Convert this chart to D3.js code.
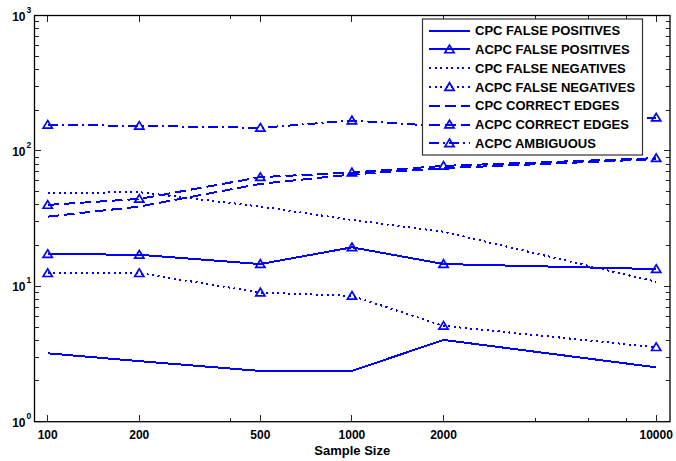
<!DOCTYPE html>
<html>
<head>
<meta charset="utf-8">
<script src="https://cdn.jsdelivr.net/npm/d3@7"></script>
<style>
    body { margin: 0; background: #fff; }
    svg { display: block; font-family: "Liberation Sans", Arial, sans-serif; font-weight: bold; }
</style>
</head>
<body>
<svg id="chart" width="676" height="461"></svg>
<script>
// sample sizes along the x axis
const sampleSizes = [100, 200, 500, 1000, 2000, 10000];
const xMajorTicks = [100, 200, 500, 1000, 2000, 10000];
const xMinorTicks = [400, 4000, 6000, 8000];

// series values
const cpcFalsePos = [3.2, 2.8, 2.37, 2.37, 4.02, 2.52];
const acpcFalsePos = [17.3, 17.1, 14.6, 19.4, 14.6, 13.4];
const cpcFalseNeg = [48.7, 49.6, 38.8, 30.9, 25.3, 10.8];
const acpcFalseNeg = [12.5, 12.5, 9.0, 8.5, 5.1, 3.55];
const cpcCorrect = [32.7, 38.8, 57.1, 67, 74.5, 87];
const acpcCorrect = [39.9, 44.2, 64, 69.2, 77.5, 88.4];
const acpcAmbiguous = [155.7, 153, 148, 167.6, 152, 176];

const seriesNames = [
    "CPC FALSE POSITIVES", "ACPC FALSE POSITIVES",
    "CPC FALSE NEGATIVES", "ACPC FALSE NEGATIVES",
    "CPC CORRECT EDGES", "ACPC CORRECT EDGES", "ACPC AMBIGUOUS"
];

const BLUE = "#0000ff";
const SOLID = null, DOTTED = "2,3.5", DASHED = "11,5", DASHDOT = "10,4,2,4";

const series = [
    { name: seriesNames[0], values: cpcFalsePos, dash: SOLID, marker: false },
    { name: seriesNames[1], values: acpcFalsePos, dash: SOLID, marker: true },
    { name: seriesNames[2], values: cpcFalseNeg, dash: DOTTED, marker: false },
    { name: seriesNames[3], values: acpcFalseNeg, dash: DOTTED, marker: true },
    { name: seriesNames[4], values: cpcCorrect, dash: DASHED, marker: false },
    { name: seriesNames[5], values: acpcCorrect, dash: DASHED, marker: true },
    { name: seriesNames[6], values: acpcAmbiguous, dash: DASHDOT, marker: true }
];

const plot = { left: 34.5, right: 670, top: 15.5, bottom: 421.7 };

const x = d3.scaleLog().domain([90.5, 11100]).range([plot.left, plot.right]);
const y = d3.scaleLog().domain([1, 1000]).range([plot.bottom, plot.top]);

const svg = d3.select("#chart");

// minor y ticks 2..9 in each decade
const yMinor = [];
[1, 10, 100].forEach(d => { for (let k = 2; k <= 9; k++) yMinor.push(d * k); });
const yMajor = [1, 10, 100, 1000];

const tickG = svg.append("g").attr("stroke", "#222").attr("stroke-width", 1).attr("shape-rendering", "crispEdges");

// x ticks, bottom and top, pointing inward
function xTick(v, len) {
    tickG.append("line").attr("x1", x(v)).attr("x2", x(v)).attr("y1", plot.bottom).attr("y2", plot.bottom - len);
    tickG.append("line").attr("x1", x(v)).attr("x2", x(v)).attr("y1", plot.top).attr("y2", plot.top + len);
}
xMajorTicks.forEach(v => xTick(v, 6.5));
xMinorTicks.forEach(v => xTick(v, 3.5));

function yTick(v, len) {
    tickG.append("line").attr("x1", plot.left).attr("x2", plot.left + len).attr("y1", y(v)).attr("y2", y(v));
    tickG.append("line").attr("x1", plot.right).attr("x2", plot.right - len).attr("y1", y(v)).attr("y2", y(v));
}
yMajor.forEach(v => yTick(v, 6.5));
yMinor.forEach(v => yTick(v, 4.5));

// x tick labels
svg.append("g").selectAll("text")
    .data(xMajorTicks)
    .enter()
    .append("text")
    .attr("x", d => x(d))
    .attr("y", 438.5)
    .attr("text-anchor", "middle")
    .attr("font-size", 12)
    .text(d => d);

// y tick labels 10^n
const yLab = svg.append("g").selectAll("g")
    .data(yMajor)
    .enter()
    .append("g");
yLab.append("text")
    .attr("x", 25.5)
    .attr("y", d => y(d) + 5)
    .attr("text-anchor", "end")
    .attr("font-size", 12)
    .text("10");
yLab.append("text")
    .attr("x", 26.5)
    .attr("y", d => y(d) - 3)
    .attr("font-size", 8.5)
    .text(d => Math.round(Math.log10(d)));

svg.append("text")
    .attr("x", (plot.left + plot.right) / 2)
    .attr("y", 455)
    .attr("text-anchor", "middle")
    .attr("font-size", 13)
    .text("Sample Size");

// the lines
const line = d3.line()
    .x((d, i) => x(sampleSizes[i]))
    .y(d => y(d));

function triangle(g, cx, cy) {
    g.append("path")
        .attr("d", `M${cx},${cy - 4.3} L${cx + 4.6},${cy + 3.3} L${cx - 4.6},${cy + 3.3} Z`)
        .attr("fill", "none")
        .attr("stroke", BLUE)
        .attr("stroke-width", 1.7);
}

const dataG = svg.append("g");
series.forEach(s => {
    dataG.append("path")
        .attr("d", line(s.values))
        .attr("fill", "none")
        .attr("stroke", BLUE)
        .attr("stroke-width", 2)
        .attr("stroke-dasharray", s.dash)
        .attr("shape-rendering", "crispEdges");
    if (s.marker) {
        s.values.forEach((v, i) => triangle(dataG, x(sampleSizes[i]), y(v)));
    }
});

// axis box
svg.append("rect")
    .attr("x", plot.left)
    .attr("y", plot.top)
    .attr("width", plot.right - plot.left)
    .attr("height", plot.bottom - plot.top)
    .attr("fill", "none")
    .attr("stroke", "#000")
    .attr("stroke-width", 1.3);

// legend
const legend = svg.append("g").attr("transform", "translate(422.5,19)");
legend.append("rect")
    .attr("width", 220)
    .attr("height", 136)
    .attr("fill", "#fff")
    .attr("stroke", "#333")
    .attr("stroke-width", 1.2);

const rowH = 18.77;
const rows = legend.selectAll("g.row")
    .data(series)
    .enter()
    .append("g")
    .attr("class", "row")
    .attr("transform", (d, i) => `translate(0,${11.7 + i * rowH})`);

rows.append("line")
    .attr("x1", 6.5).attr("x2", 47.5)
    .attr("y1", 0).attr("y2", 0)
    .attr("stroke", BLUE)
    .attr("stroke-width", 2)
    .attr("stroke-dasharray", d => d.dash)
    .attr("shape-rendering", "crispEdges");

rows.each(function(d) {
    if (d.marker) triangle(d3.select(this), 27, 0);
});

rows.append("text")
    .attr("x", 52.5)
    .attr("y", 4.6)
    .attr("font-size", 13)
    .attr("fill", "#000")
    .text(d => d.name);
</script>
</body>
</html>
